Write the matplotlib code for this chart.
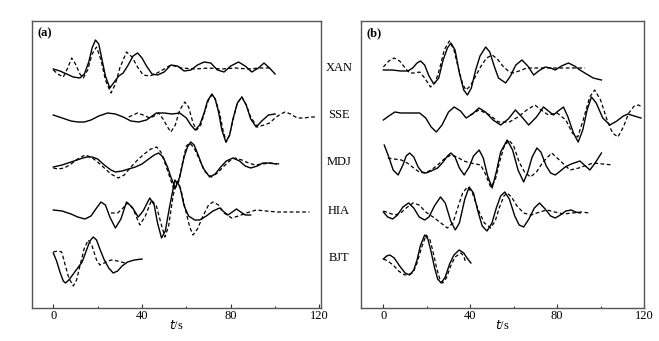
import numpy as np
import matplotlib.pyplot as plt

stations = ["XAN", "SSE", "MDJ", "HIA", "BJT"]
offsets = [190, 143, 96, 47, 0]

# ---- panel (a): observed (solid) and synthetic (dashed) traces ----
a_xan_obs_t = [0, 3, 6, 9, 12, 14, 16, 17.5, 19, 20.5, 22, 23.5, 25.5, 27.5, 29.5, 31.5, 33.5, 36, 38, 40,
               42, 44.5, 47, 50, 53, 56, 59, 62, 65, 68, 71, 74, 77, 80, 83.5, 86.5, 89.5, 92.5, 95, 97.5, 100]
a_xan_obs = [-1, -3, -6, -9, -10, -6, 6, 20, 28, 24, 8, -8, -20, -14, -8, -5, 2, 12, 15, 10,
             2, -6, -7, -4, 3, 2, -3, -2, 3, 6, 5, -2, -4, 2, 6, 2, -4, 0, 5, 0, -6]
a_xan_syn_t = [0, 2, 4.5, 6.5, 8.3, 10, 12, 13.5, 15.5, 17.5, 19.5, 21.5, 23.5, 26, 28, 30, 33, 35.5, 38, 40.5,
               43.5, 46, 50, 53, 58, 64, 70, 76, 82, 88, 93, 97.5]
a_xan_syn = [-2, -6, -9, 0, 10, 4, -6, -10, -2, 14, 21, 8, -12, -25, -16, 0, 16, 11, 1, -7,
             -8, -6, -1, 3, 0, -1, 0, -1, 0, -1, 0, 0]

a_sse_obs_t = [0, 4, 8, 11, 14, 17, 20.5, 24.5, 28, 31.5, 35, 38.5, 42, 46.5, 50, 53.5, 57, 60, 62, 64,
               66, 68, 69.5, 71.5, 73, 74.5, 76, 77.8, 79.5, 81, 83, 85, 87, 89, 91.5, 94, 97, 100]
a_sse_obs = [0, -3, -6, -7, -7, -5, -1, 2, 1, -2, -6, -7, -5, 2, 2, 1, 2, -3, -10, -15,
             -10, 2, 14, 21, 16, 3, -15, -27, -20, -4, 12, 18, 10, -4, -12, -6, 0, 1]
a_sse_syn_t = [34, 36, 38, 40.5, 43.5, 45.5, 47.5, 49.5, 51.5, 53, 55, 57, 59.3, 61, 63, 64.6, 66.5, 68.5, 70, 71.5,
               73, 75, 76.5, 78, 79.5, 81, 83, 85, 87, 89, 92, 95, 97.5, 100, 102.5, 104.5, 107, 110, 113, 116, 119]
a_sse_syn = [-2, 0, 2, 0, -3, -1, 2, -4, -12, -17, -10, 5, 13, 8, -8, -15, -10, 5, 15, 20,
             16, 2, -15, -27, -20, -5, 12, 18, 10, -2, -12, -10, -8, -3, 1, 3, 1, -3, -3, -2, -2]

a_mdj_obs_t = [0, 4, 8, 12, 15, 17.5, 20, 23, 26, 28, 31, 34, 37, 40, 43, 45.5, 47.5, 49.5, 51.5, 53,
               55, 57, 59, 60.5, 62, 63.5, 65.5, 67.5, 70.5, 73, 75.5, 78, 81, 84, 86.5, 89, 92, 94.5, 97, 100.5]
a_mdj_obs = [-5, -3, 0, 3, 5, 5, 3, -3, -8, -10, -9, -7, -5, -2, 3, 7, 9, 5, -5, -15,
             -26, -15, 5, 15, 20, 17, 6, -6, -15, -12, -5, 1, 4, 1, -4, -6, -4, -1, -1, -2]
a_mdj_syn_t = [0, 2, 5, 8, 11, 14.3, 17, 20, 23, 26, 29.3, 32, 35, 38, 41, 44, 46.6, 48.5, 50.5, 52.5,
               54.5, 56.5, 58.5, 60, 61.5, 63.5, 66, 68.5, 71.4, 74, 77, 80, 82, 85, 88, 91, 94, 98, 102]
a_mdj_syn = [-6, -7, -6, -2, 3, 7, 5, 0, -6, -12, -16, -13, -5, 2, 8, 13, 15, 10, -2, -15,
             -28, -20, 2, 16, 19, 14, 2, -10, -15, -11, -4, 2, 4, 2, -1, -3, -2, -1, -2]

a_hia_obs_t = [0, 4, 8, 11, 14.3, 17, 19.5, 21.5, 23.5, 25.5, 28, 30.5, 33, 35.5, 38.3, 40.5, 43.5, 45.5, 47, 48.8,
               50.5, 52.5, 54.8, 57, 59, 61, 63.8, 66, 69, 72, 75, 77, 78.7, 80.7, 82.6, 84.5, 86.5, 89]
a_hia_obs = [1, 0, -3, -6, -8, -5, 3, 9, 6, -6, -17, -8, 9, 4, -6, 0, 13, 6, -12, -27,
             -20, 5, 31, 25, 5, -5, -9, -9, -5, 0, 3, -1, -4, -1, 2, -1, -4, -4]
a_hia_syn_t = [26, 29, 31, 33.6, 36, 39, 41.5, 44.3, 46.5, 48.5, 50.3, 52, 54, 55.5, 57.5, 59.5, 61.5, 63, 65, 67.5,
               70, 72, 74.5, 77, 80.4, 83.5, 87, 91.5, 96, 101, 106, 111, 115.5]
a_hia_syn = [-2, -2, 2, 8, 2, -14, -5, 11, 5, -12, -26, -15, 15, 29, 22, 2, -16, -24, -18, -5,
             6, 9, 6, -2, -7, -5, -2, 1, 0, -1, -1, -1, -1]

a_bjt_obs_t = [0, 1.5, 3, 4.5, 5.5, 7, 9, 11, 13, 15, 16.5, 18, 19.5, 21, 23, 25, 27, 29, 31, 33.5, 36.5, 40]
a_bjt_obs = [5, -3, -14, -23, -25, -22, -16, -10, -4, 8, 17, 21, 18, 9, -2, -10, -15, -13, -8, -4, -2, -1]
a_bjt_syn_t = [0, 2, 3.8, 5.5, 7, 9, 10.5, 12, 14, 15.8, 17.5, 19.5, 21, 23, 26, 29, 32.3]
a_bjt_syn = [6, 7, 6, -8, -20, -28, -22, -8, 10, 18, 12, -2, -7, -5, -2, -3, -5]

# ---- panel (b) ----
b_xan_obs_t = [0, 4, 8, 11.3, 13.5, 15.5, 17.1, 19, 21, 23.2, 25.5, 27.5, 29.5, 31.1, 33, 35, 37, 38.7, 40.5, 42.5,
               44.5, 47.1, 49, 51, 53, 56.3, 58.5, 61, 63.8, 66.5, 69.2, 71.5, 74.5, 77, 79.1, 82, 85.2, 88, 90.5, 93.5,
               96.6, 100.4]
b_xan_obs = [-2, -2, -3, -3, 0, 5, 7, 3, -8, -16, -10, 8, 20, 25, 18, -5, -22, -27, -20, -2,
             12, 21, 16, 2, -10, -15, -8, 3, 8, 2, -7, -3, 1, 0, -2, 2, 5, 2, -2, -6,
             -10, -12]
b_xan_syn_t = [0, 2.5, 4.9, 7.5, 10, 12.1, 14.5, 16.7, 19, 21.7, 24, 26, 28, 30.4, 32.5, 34.5, 36.5, 38, 40, 42.5,
               45, 47.5, 50.1, 52.5, 55, 57.5, 59.5, 62.5, 66, 72, 78, 85, 92.8]
b_xan_syn = [1, 7, 10, 7, 0, -5, -5, -4, -10, -19, -14, 0, 18, 27, 18, 0, -16, -22, -18, -8,
             2, 10, 13, 9, 2, -3, -5, -3, 0, 0, 0, 0, 0]

b_sse_obs_t = [0, 2.5, 5.3, 8, 12, 16.7, 19.5, 22, 24.4, 27, 30, 32.6, 35.5, 38.1, 41, 44, 47, 50.5, 54, 57.5,
               60.8, 63.8, 66.9, 70.5, 73.7, 76, 78.3, 80.5, 82.9, 85, 87.5, 89.7, 91.8, 93.8, 95.8, 98, 101, 104.3,
               107.5, 110.5, 112.6, 115.5, 118.6]
b_sse_obs = [-5, -1, 3, 2, 2, 2, -3, -12, -17, -10, 3, 8, 4, -3, 1, 7, 3, -5, -10, -4,
             5, -2, -10, -2, 8, 4, 0, 4, 8, -2, -18, -27, -15, 5, 18, 12, -3, -10,
             -6, -1, 1, -1, -3]
b_sse_syn_t = [40, 44, 49, 53, 58, 62, 66, 69.8, 72, 76, 80, 84, 87, 89.5, 92, 95, 97.3, 100, 103, 105.5,
               108, 110.5, 113, 115.5, 117.5, 119]
b_sse_syn = [0, 5, 0, -7, -7, -2, 5, 10, 6, 0, 2, -5, -18, -22, -5, 18, 25, 15, -5, -18,
             -22, -12, 2, 9, 10, 8]

b_mdj_obs_t = [0.4, 2.5, 4.5, 6.8, 9, 10.5, 12.1, 14, 16, 17.8, 19.7, 22, 25, 27.5, 29.5, 31.1, 33, 35, 37.2, 39.5,
               41.5, 44.1, 46, 48, 50.1, 52, 54, 57, 59.5, 62, 64.6, 66.5, 68.5, 70.7, 72.5, 75, 77, 79.1, 81.5, 83.7,
               86.5, 90.5, 93, 95.1, 97.5, 100.4]
b_mdj_obs = [17, 5, -8, -13, -3, 6, 9, 5, -5, -10, -11, -9, -6, 0, 6, 9, 5, -6, -13, -5,
             6, 12, 4, -14, -26, -10, 10, 22, 12, -8, -20, -10, 5, 14, 10, -4, -11, -13, -9, -5,
             -2, 1, -4, -8, -1, 9]
b_mdj_syn_t = [2, 5, 8.3, 11, 14, 16.5, 19, 22, 25, 28, 31.1, 34, 37, 40.3, 44.8, 47, 49.4, 51.5, 53.5, 55.5,
               57.8, 60, 62.5, 65, 67.7, 70.5, 73.5, 77.5, 81, 85.9, 90, 96.6, 101, 105.7]
b_mdj_syn = [4, 3, 2, -1, -6, -10, -11, -8, -3, 3, 7, 5, 1, -1, -3, -12, -25, -18, 0, 15,
             22, 16, 0, -10, -15, -10, 0, 9, 2, -8, -6, -1, -2, -3]

b_hia_obs_t = [0, 2, 4.3, 6.5, 9, 11.6, 14, 16.5, 19, 21, 23.5, 26.3, 28.5, 31, 33.1, 35, 37.5, 39.5, 41.5, 43.5,
               45.5, 47.7, 50, 52, 54, 55.9, 58, 60.5, 62.5, 64.6, 67, 69.5, 71.9, 74.5, 77, 79.1, 81.5, 84, 86.5, 88.5,
               90.6]
b_hia_obs = [-1, -6, -8, -4, 4, 8, 3, -6, -9, -6, 5, 14, 8, -10, -19, -12, 12, 24, 18, 0,
             -15, -20, -12, 3, 15, 19, 12, -5, -14, -16, -8, 3, 8, 2, -5, -7, -4, 0, 1, -1,
             -2]
b_hia_syn_t = [0, 2.5, 5.3, 8, 10.5, 13.6, 16.5, 19.5, 23.5, 26.5, 29.5, 32, 34.5, 36.5, 38.7, 41, 43.5, 46.5, 49.4, 51.5,
               53.5, 55.5, 57, 59, 61.5, 64.6, 68, 72, 75.3, 79, 83, 87, 91, 95]
b_hia_syn = [0, -2, -4, -2, 3, 8, 6, -1, -7, -12, -17, -12, 5, 18, 24, 18, 2, -12, -17, -10,
             4, 15, 18, 14, 5, -2, -4, -1, 1, -1, -3, -2, -1, -2]

b_bjt_obs_t = [0, 1.5, 3, 5, 7.5, 10, 12.1, 14, 15.5, 17, 19, 20.5, 22, 23.5, 25, 26.6, 28.5, 30.5, 32.5, 34.9,
               37, 38.5, 40.3]
b_bjt_obs = [-1, 2, 3, 0, -8, -15, -17, -12, -2, 12, 23, 19, 6, -9, -21, -25, -19, -6, 3, 8,
             5, 0, -5]
b_bjt_syn_t = [0, 2, 4.5, 7, 9.8, 12, 13.6, 15.5, 17.5, 19.7, 21.5, 23, 24.5, 26, 27.3, 29, 31, 33, 35.7, 37, 38]
b_bjt_syn = [-1, -3, -7, -13, -17, -16, -15, -5, 10, 23, 18, 5, -10, -21, -25, -20, -8, 1, 5, 2, -5]

panels = {
    "a": [(a_xan_obs_t, a_xan_obs, a_xan_syn_t, a_xan_syn),
          (a_sse_obs_t, a_sse_obs, a_sse_syn_t, a_sse_syn),
          (a_mdj_obs_t, a_mdj_obs, a_mdj_syn_t, a_mdj_syn),
          (a_hia_obs_t, a_hia_obs, a_hia_syn_t, a_hia_syn),
          (a_bjt_obs_t, a_bjt_obs, a_bjt_syn_t, a_bjt_syn)],
    "b": [(b_xan_obs_t, b_xan_obs, b_xan_syn_t, b_xan_syn),
          (b_sse_obs_t, b_sse_obs, b_sse_syn_t, b_sse_syn),
          (b_mdj_obs_t, b_mdj_obs, b_mdj_syn_t, b_mdj_syn),
          (b_hia_obs_t, b_hia_obs, b_hia_syn_t, b_hia_syn),
          (b_bjt_obs_t, b_bjt_obs, b_bjt_syn_t, b_bjt_syn)],
}

plt.rcParams["font.family"] = ["Liberation Serif", "DejaVu Serif"]

W, H = 659, 341
fig = plt.figure(figsize=(W / 100, H / 100), dpi=100)

boxes = {"a": (32, 21, 321, 308), "b": (361, 21, 644, 308)}
xlims = {"a": (-9.6, 120.7), "b": (-10.3, 119.8)}

for key, (x0, y0, x1, y1) in boxes.items():
    ax = fig.add_axes([x0 / W, 1 - y1 / H, (x1 - x0) / W, (y1 - y0) / H])
    for off, (ot, oa, st, sa) in zip(offsets, panels[key]):
        ax.plot(ot, np.array(oa) + off, color="black", lw=1.0)
        ax.plot(st, np.array(sa) + off, color="black", lw=0.9, dashes=(3, 2))
    ax.set_xlim(*xlims[key])
    ax.set_ylim(-50, 237)
    ax.set_yticks([])
    ax.set_xticks([0, 40, 80, 120])
    ax.set_xticks([20, 60, 100], minor=True)
    ax.tick_params(axis="x", which="major", direction="in", length=3, width=0.8,
                   labelsize=9, pad=1.5, color="#333333")
    ax.tick_params(axis="x", which="minor", direction="in", length=1.5, width=0.8, color="#333333")
    for sp in ax.spines.values():
        sp.set_color("#555555")
        sp.set_linewidth(1.0)
    ax.text(0.018, 0.978, f"({key})", transform=ax.transAxes, fontsize=9,
            fontweight="bold", va="top", ha="left")
    ax.set_xlabel("$t$/s", fontsize=9)
    ax.xaxis.set_label_coords(0.5, -0.062)
    ax.xaxis.label.set_va("center")

# station names between the two panels
lab_ax = fig.add_axes([321 / W, 1 - 308 / H, 40 / W, 287 / H])
lab_ax.set_ylim(-50, 237)
lab_ax.set_xlim(0, 1)
lab_ax.axis("off")
for name, off in zip(stations, offsets):
    lab_ax.text(0.45, off, name, ha="center", va="center", fontsize=9)

fig.savefig("out.png", dpi=100)
